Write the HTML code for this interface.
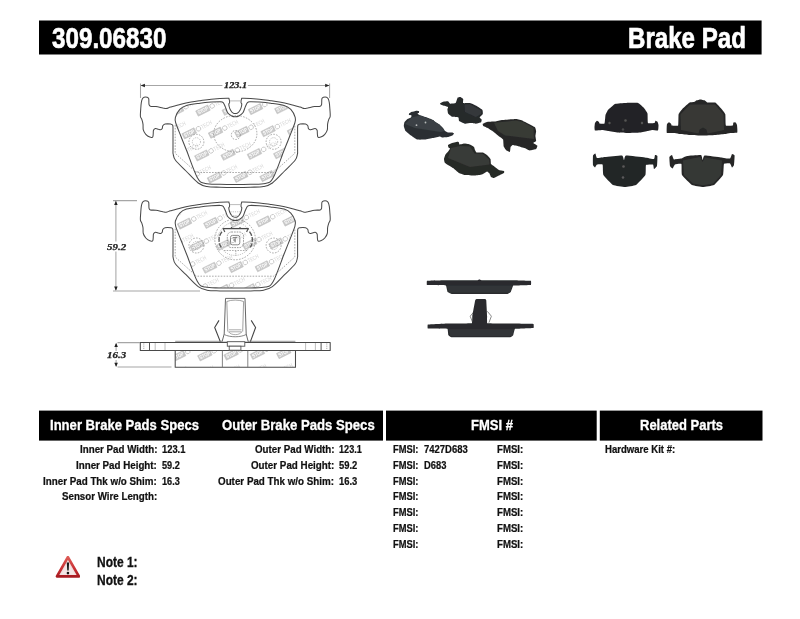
<!DOCTYPE html>
<html><head><meta charset="utf-8"><title>309.06830 Brake Pad</title>
<style>
html,body{margin:0;padding:0;background:#fff;}
body{width:800px;height:619px;position:relative;overflow:hidden;font-family:"Liberation Sans",sans-serif;}
.t{filter:blur(0.3px);position:absolute;white-space:pre;line-height:1;font-weight:bold;transform-origin:0 0;font-family:"Liberation Sans",sans-serif;}
.wmg{font-family:"Liberation Sans",sans-serif;font-weight:bold;fill:none;}
.ol{fill:none;stroke:#4a4a4a;stroke-width:1.05;stroke-linejoin:round;}
.ds{fill:none;stroke:#858585;stroke-width:0.7;stroke-dasharray:1.6 1.3;}
.ds2{fill:none;stroke:#999;stroke-width:0.7;stroke-dasharray:1 1.2;}
.dm{fill:none;stroke:#a6a6a6;stroke-width:1.05;}
</style></head><body>
<svg width="800" height="619" viewBox="0 0 800 619" style="position:absolute;left:0;top:0">
<defs>
<filter id="b1" x="-10%" y="-10%" width="120%" height="120%"><feGaussianBlur stdDeviation="0.55"/></filter>
<filter id="b0" x="-5%" y="-5%" width="110%" height="110%"><feGaussianBlur stdDeviation="0.35"/></filter>
<clipPath id="cf"><path d="M235.00 116.80C233.80 116.80 232.92 116.67 231.70 116.00C230.48 115.33 228.75 114.28 227.70 112.80C226.65 111.32 226.15 108.80 225.40 107.10C224.65 105.40 224.03 103.50 223.20 102.60C222.37 101.70 222.38 101.78 220.40 101.70C218.42 101.62 214.70 101.85 211.30 102.10C207.90 102.35 204.13 102.65 200.00 103.20C195.87 103.75 189.87 104.37 186.50 105.40C183.13 106.43 181.65 107.42 179.80 109.40C177.95 111.38 176.07 115.03 175.40 117.30C174.73 119.57 174.87 119.80 175.80 123.00C176.73 126.20 179.20 131.92 181.00 136.50C182.80 141.08 183.87 143.62 186.60 150.50C189.33 157.38 194.28 172.32 197.40 177.80C200.52 183.28 201.53 182.33 205.30 183.40C209.07 184.47 215.05 184.03 220.00 184.20C224.95 184.37 229.90 184.40 235.00 184.40C240.10 184.40 245.55 184.37 250.60 184.20C255.65 184.03 261.53 184.47 265.30 183.40C269.07 182.33 270.08 183.28 273.20 177.80C276.32 172.32 281.27 157.38 284.00 150.50C286.73 143.62 287.80 141.08 289.60 136.50C291.40 131.92 293.87 126.20 294.80 123.00C295.73 119.80 295.87 119.57 295.20 117.30C294.53 115.03 292.65 111.38 290.80 109.40C288.95 107.42 287.47 106.43 284.10 105.40C280.73 104.37 274.73 103.75 270.60 103.20C266.47 102.65 262.70 102.35 259.30 102.10C255.90 101.85 252.18 101.62 250.20 101.70C248.22 101.78 248.23 101.70 247.40 102.60C246.57 103.50 245.95 105.40 245.20 107.10C244.45 108.80 243.95 111.32 242.90 112.80C241.85 114.28 240.22 115.33 238.90 116.00C237.58 116.67 236.20 116.80 235.00 116.80Z"/></clipPath>
<clipPath id="cf2"><path d="M235.00 116.80C233.80 116.80 232.92 116.67 231.70 116.00C230.48 115.33 228.75 114.28 227.70 112.80C226.65 111.32 226.15 108.80 225.40 107.10C224.65 105.40 224.03 103.50 223.20 102.60C222.37 101.70 222.38 101.78 220.40 101.70C218.42 101.62 214.70 101.85 211.30 102.10C207.90 102.35 204.13 102.65 200.00 103.20C195.87 103.75 189.87 104.37 186.50 105.40C183.13 106.43 181.65 107.42 179.80 109.40C177.95 111.38 176.07 115.03 175.40 117.30C174.73 119.57 174.87 119.80 175.80 123.00C176.73 126.20 179.20 131.92 181.00 136.50C182.80 141.08 183.87 143.62 186.60 150.50C189.33 157.38 194.28 172.32 197.40 177.80C200.52 183.28 201.53 182.33 205.30 183.40C209.07 184.47 215.05 184.03 220.00 184.20C224.95 184.37 229.90 184.40 235.00 184.40C240.10 184.40 245.55 184.37 250.60 184.20C255.65 184.03 261.53 184.47 265.30 183.40C269.07 182.33 270.08 183.28 273.20 177.80C276.32 172.32 281.27 157.38 284.00 150.50C286.73 143.62 287.80 141.08 289.60 136.50C291.40 131.92 293.87 126.20 294.80 123.00C295.73 119.80 295.87 119.57 295.20 117.30C294.53 115.03 292.65 111.38 290.80 109.40C288.95 107.42 287.47 106.43 284.10 105.40C280.73 104.37 274.73 103.75 270.60 103.20C266.47 102.65 262.70 102.35 259.30 102.10C255.90 101.85 252.18 101.62 250.20 101.70C248.22 101.78 248.23 101.70 247.40 102.60C246.57 103.50 245.95 105.40 245.20 107.10C244.45 108.80 243.95 111.32 242.90 112.80C241.85 114.28 240.22 115.33 238.90 116.00C237.58 116.67 236.20 116.80 235.00 116.80Z" transform="translate(0 103.7)"/></clipPath>
<clipPath id="cs"><rect x="175.2" y="350.4" width="120.3" height="16.9"/></clipPath>
<g>
<g id="lg"><rect x="-0.6" y="-4.9" width="13.4" height="5.8" fill="#c9c9c9" stroke="#bdbdbd" stroke-width="0.5"/><text x="0.5" y="-0.3" textLength="11.2" lengthAdjust="spacingAndGlyphs" stroke="none" fill="#fff" font-size="5.4">STOP</text><circle cx="16.4" cy="-2" r="2.3" stroke="#c2c2c2" stroke-width="0.8"/><text x="19.6" y="0" textLength="11.5" lengthAdjust="spacingAndGlyphs" stroke="none" fill="#d6d6d6" font-size="6" font-weight="normal">TECH</text></g>
</g>
<g id="pad">
 <path d="M235.00 113.50C234.37 113.50 233.93 113.45 233.40 113.20C232.87 112.95 232.40 112.77 231.80 112.00C231.20 111.23 230.30 109.88 229.80 108.60C229.30 107.32 228.83 105.30 228.80 104.30C228.77 103.30 229.57 103.48 229.60 102.60C229.63 101.72 229.42 99.72 229.00 99.00C228.58 98.28 230.05 98.27 227.10 98.30C224.15 98.33 215.82 98.80 211.30 99.20C206.78 99.60 203.37 100.22 200.00 100.70C196.63 101.18 194.28 101.50 191.10 102.10C187.92 102.70 184.30 103.47 180.90 104.30C177.50 105.13 173.15 106.40 170.70 107.10C168.25 107.80 167.52 108.35 166.20 108.50C164.88 108.65 164.50 108.32 162.80 108.00C161.10 107.68 158.07 106.90 156.00 106.60C153.93 106.30 151.57 106.58 150.40 106.20C149.23 105.82 149.28 105.55 149.00 104.30C148.72 103.05 149.03 99.88 148.70 98.70C148.37 97.52 147.77 97.45 147.00 97.20C146.23 96.95 144.87 96.95 144.10 97.20C143.33 97.45 142.87 97.80 142.40 98.70C141.93 99.60 141.58 100.82 141.30 102.60C141.02 104.38 140.85 107.13 140.70 109.40C140.55 111.67 140.20 114.50 140.40 116.20C140.60 117.90 141.47 118.28 141.90 119.60C142.33 120.92 142.77 122.40 143.00 124.10C143.23 125.80 142.83 128.10 143.30 129.80C143.77 131.50 144.72 133.08 145.80 134.30C146.88 135.52 148.67 136.63 149.80 137.10C150.93 137.57 152.03 137.57 152.60 137.10C153.17 136.63 153.05 135.43 153.20 134.30C153.35 133.17 153.13 131.25 153.50 130.30C153.87 129.35 154.60 128.78 155.40 128.60C156.20 128.42 157.45 129.00 158.30 129.20C159.15 129.40 159.85 129.90 160.50 129.80C161.15 129.70 161.82 129.27 162.20 128.60C162.58 127.93 162.32 126.55 162.80 125.80C163.28 125.05 163.78 124.38 165.10 124.10C166.42 123.82 169.43 123.92 170.70 124.10C171.97 124.28 172.32 124.22 172.70 125.20C173.08 126.18 172.95 125.87 173.00 130.00C173.05 134.13 172.97 145.98 173.00 150.00C173.03 154.02 172.78 152.38 173.20 154.10C173.62 155.82 173.37 157.48 175.50 160.30C177.63 163.12 182.22 167.22 186.00 171.00C189.78 174.78 194.70 180.42 198.20 183.00C201.70 185.58 203.37 185.80 207.00 186.50C210.63 187.20 215.33 187.05 220.00 187.20C224.67 187.35 229.90 187.40 235.00 187.40C240.10 187.40 245.83 187.35 250.60 187.20C255.37 187.05 259.97 187.20 263.60 186.50C267.23 185.80 268.90 185.58 272.40 183.00C275.90 180.42 280.82 174.78 284.60 171.00C288.38 167.22 292.97 163.12 295.10 160.30C297.23 157.48 296.98 155.82 297.40 154.10C297.82 152.38 297.57 154.02 297.60 150.00C297.63 145.98 297.55 134.13 297.60 130.00C297.65 125.87 297.52 126.18 297.90 125.20C298.28 124.22 298.63 124.28 299.90 124.10C301.17 123.92 304.18 123.82 305.50 124.10C306.82 124.38 307.32 125.05 307.80 125.80C308.28 126.55 308.02 127.93 308.40 128.60C308.78 129.27 309.45 129.70 310.10 129.80C310.75 129.90 311.45 129.40 312.30 129.20C313.15 129.00 314.40 128.42 315.20 128.60C316.00 128.78 316.73 129.35 317.10 130.30C317.47 131.25 317.25 133.17 317.40 134.30C317.55 135.43 317.43 136.63 318.00 137.10C318.57 137.57 319.67 137.57 320.80 137.10C321.93 136.63 323.72 135.52 324.80 134.30C325.88 133.08 326.83 131.50 327.30 129.80C327.77 128.10 327.37 125.80 327.60 124.10C327.83 122.40 328.27 120.92 328.70 119.60C329.13 118.28 330.00 117.90 330.20 116.20C330.40 114.50 330.05 111.67 329.90 109.40C329.75 107.13 329.58 104.38 329.30 102.60C329.02 100.82 328.67 99.60 328.20 98.70C327.73 97.80 327.27 97.45 326.50 97.20C325.73 96.95 324.37 96.95 323.60 97.20C322.83 97.45 322.23 97.52 321.90 98.70C321.57 99.88 321.88 103.05 321.60 104.30C321.32 105.55 321.37 105.82 320.20 106.20C319.03 106.58 316.67 106.30 314.60 106.60C312.53 106.90 309.50 107.68 307.80 108.00C306.10 108.32 305.72 108.65 304.40 108.50C303.08 108.35 302.35 107.80 299.90 107.10C297.45 106.40 293.10 105.13 289.70 104.30C286.30 103.47 282.68 102.70 279.50 102.10C276.32 101.50 273.97 101.18 270.60 100.70C267.23 100.22 263.82 99.60 259.30 99.20C254.78 98.80 246.45 98.33 243.50 98.30C240.55 98.27 242.02 98.28 241.60 99.00C241.18 99.72 240.97 101.72 241.00 102.60C241.03 103.48 241.83 103.30 241.80 104.30C241.77 105.30 241.30 107.32 240.80 108.60C240.30 109.88 239.40 111.23 238.80 112.00C238.20 112.77 237.83 112.95 237.20 113.20C236.57 113.45 235.63 113.50 235.00 113.50Z" class="ol"/>
 <path d="M235.00 116.80C233.80 116.80 232.92 116.67 231.70 116.00C230.48 115.33 228.75 114.28 227.70 112.80C226.65 111.32 226.15 108.80 225.40 107.10C224.65 105.40 224.03 103.50 223.20 102.60C222.37 101.70 222.38 101.78 220.40 101.70C218.42 101.62 214.70 101.85 211.30 102.10C207.90 102.35 204.13 102.65 200.00 103.20C195.87 103.75 189.87 104.37 186.50 105.40C183.13 106.43 181.65 107.42 179.80 109.40C177.95 111.38 176.07 115.03 175.40 117.30C174.73 119.57 174.87 119.80 175.80 123.00C176.73 126.20 179.20 131.92 181.00 136.50C182.80 141.08 183.87 143.62 186.60 150.50C189.33 157.38 194.28 172.32 197.40 177.80C200.52 183.28 201.53 182.33 205.30 183.40C209.07 184.47 215.05 184.03 220.00 184.20C224.95 184.37 229.90 184.40 235.00 184.40C240.10 184.40 245.55 184.37 250.60 184.20C255.65 184.03 261.53 184.47 265.30 183.40C269.07 182.33 270.08 183.28 273.20 177.80C276.32 172.32 281.27 157.38 284.00 150.50C286.73 143.62 287.80 141.08 289.60 136.50C291.40 131.92 293.87 126.20 294.80 123.00C295.73 119.80 295.87 119.57 295.20 117.30C294.53 115.03 292.65 111.38 290.80 109.40C288.95 107.42 287.47 106.43 284.10 105.40C280.73 104.37 274.73 103.75 270.60 103.20C266.47 102.65 262.70 102.35 259.30 102.10C255.90 101.85 252.18 101.62 250.20 101.70C248.22 101.78 248.23 101.70 247.40 102.60C246.57 103.50 245.95 105.40 245.20 107.10C244.45 108.80 243.95 111.32 242.90 112.80C241.85 114.28 240.22 115.33 238.90 116.00C237.58 116.67 236.20 116.80 235.00 116.80Z" class="ol"/>
 <path d="M229.6 100.9H240.4" stroke="#aaa" stroke-width="0.8" fill="none"/>
 <path d="M175.2 125V153.3L196.5 172.5H273.5L294.8 153.3V125" class="ds"/>
 <circle cx="196.4" cy="141.8" r="7.5" class="ds"/><circle cx="196.4" cy="141.8" r="4.1" class="ds2"/> <circle cx="273.6" cy="141.8" r="7.5" class="ds"/><circle cx="273.6" cy="141.8" r="4.1" class="ds2"/>
</g>
</defs>
<rect x="39" y="20.5" width="722.6" height="34" fill="#000"/>
<rect x="39" y="410.6" width="344" height="30" fill="#000"/>
<rect x="386" y="410.6" width="210.7" height="30" fill="#000"/>
<rect x="599.8" y="410.6" width="162.7" height="30" fill="#000"/>
<g filter="url(#b0)">
<g clip-path="url(#cf)" class="wmg"><use href="#lg" transform="translate(159.5 93.7) rotate(-26.6)"/>
<use href="#lg" transform="translate(185.8 93.0) rotate(-26.6)"/>
<use href="#lg" transform="translate(212.1 92.2) rotate(-26.6)"/>
<use href="#lg" transform="translate(238.4 91.5) rotate(-26.6)"/>
<use href="#lg" transform="translate(264.7 90.7) rotate(-26.6)"/>
<use href="#lg" transform="translate(291.0 90.0) rotate(-26.6)"/>
<use href="#lg" transform="translate(145.8 116.6) rotate(-26.6)"/>
<use href="#lg" transform="translate(172.1 115.8) rotate(-26.6)"/>
<use href="#lg" transform="translate(198.4 115.1) rotate(-26.6)"/>
<use href="#lg" transform="translate(224.7 114.3) rotate(-26.6)"/>
<use href="#lg" transform="translate(251.0 113.6) rotate(-26.6)"/>
<use href="#lg" transform="translate(277.3 112.8) rotate(-26.6)"/>
<use href="#lg" transform="translate(303.6 112.1) rotate(-26.6)"/>
<use href="#lg" transform="translate(158.4 138.7) rotate(-26.6)"/>
<use href="#lg" transform="translate(184.7 137.9) rotate(-26.6)"/>
<use href="#lg" transform="translate(211.0 137.2) rotate(-26.6)"/>
<use href="#lg" transform="translate(237.3 136.4) rotate(-26.6)"/>
<use href="#lg" transform="translate(263.6 135.7) rotate(-26.6)"/>
<use href="#lg" transform="translate(289.9 134.9) rotate(-26.6)"/>
<use href="#lg" transform="translate(171.0 160.8) rotate(-26.6)"/>
<use href="#lg" transform="translate(197.3 160.0) rotate(-26.6)"/>
<use href="#lg" transform="translate(223.6 159.3) rotate(-26.6)"/>
<use href="#lg" transform="translate(249.9 158.5) rotate(-26.6)"/>
<use href="#lg" transform="translate(276.2 157.8) rotate(-26.6)"/>
<use href="#lg" transform="translate(302.5 157.0) rotate(-26.6)"/>
<use href="#lg" transform="translate(157.3 183.6) rotate(-26.6)"/>
<use href="#lg" transform="translate(183.6 182.9) rotate(-26.6)"/>
<use href="#lg" transform="translate(209.9 182.1) rotate(-26.6)"/>
<use href="#lg" transform="translate(236.2 181.4) rotate(-26.6)"/>
<use href="#lg" transform="translate(262.5 180.6) rotate(-26.6)"/>
<use href="#lg" transform="translate(288.8 179.9) rotate(-26.6)"/>
<use href="#lg" transform="translate(315.1 179.1) rotate(-26.6)"/>
<use href="#lg" transform="translate(222.5 204.2) rotate(-26.6)"/>
<use href="#lg" transform="translate(248.8 203.5) rotate(-26.6)"/>
<use href="#lg" transform="translate(275.1 202.7) rotate(-26.6)"/>
<use href="#lg" transform="translate(301.4 202.0) rotate(-26.6)"/></g>
<use href="#pad"/>
<ellipse cx="235.3" cy="133.7" rx="21.6" ry="18.3" class="ds"/><circle cx="235.8" cy="135" r="4.5" class="ds"/>
<path d="M140.5 98V83.5M329.6 98V83.5M141 85.4H222.4M247.9 85.4H329" class="dm"/>
<path d="M140.7 85.4l4.2-1.75v3.5zM329.4 85.4l-4.2-1.75v3.5z" fill="#222"/>
<g clip-path="url(#cf2)" class="wmg"><use href="#lg" transform="translate(167.4 206.0) rotate(-26.6)"/>
<use href="#lg" transform="translate(193.7 205.3) rotate(-26.6)"/>
<use href="#lg" transform="translate(220.0 204.5) rotate(-26.6)"/>
<use href="#lg" transform="translate(246.3 203.8) rotate(-26.6)"/>
<use href="#lg" transform="translate(272.6 203.0) rotate(-26.6)"/>
<use href="#lg" transform="translate(298.9 202.3) rotate(-26.6)"/>
<use href="#lg" transform="translate(153.7 228.9) rotate(-26.6)"/>
<use href="#lg" transform="translate(180.0 228.1) rotate(-26.6)"/>
<use href="#lg" transform="translate(206.3 227.4) rotate(-26.6)"/>
<use href="#lg" transform="translate(232.6 226.6) rotate(-26.6)"/>
<use href="#lg" transform="translate(258.9 225.9) rotate(-26.6)"/>
<use href="#lg" transform="translate(285.2 225.1) rotate(-26.6)"/>
<use href="#lg" transform="translate(311.5 224.4) rotate(-26.6)"/>
<use href="#lg" transform="translate(166.3 251.0) rotate(-26.6)"/>
<use href="#lg" transform="translate(192.6 250.2) rotate(-26.6)"/>
<use href="#lg" transform="translate(218.9 249.5) rotate(-26.6)"/>
<use href="#lg" transform="translate(245.2 248.7) rotate(-26.6)"/>
<use href="#lg" transform="translate(271.5 248.0) rotate(-26.6)"/>
<use href="#lg" transform="translate(297.8 247.2) rotate(-26.6)"/>
<use href="#lg" transform="translate(152.6 273.8) rotate(-26.6)"/>
<use href="#lg" transform="translate(178.9 273.1) rotate(-26.6)"/>
<use href="#lg" transform="translate(205.2 272.3) rotate(-26.6)"/>
<use href="#lg" transform="translate(231.5 271.6) rotate(-26.6)"/>
<use href="#lg" transform="translate(257.8 270.8) rotate(-26.6)"/>
<use href="#lg" transform="translate(284.1 270.1) rotate(-26.6)"/>
<use href="#lg" transform="translate(310.4 269.3) rotate(-26.6)"/>
<use href="#lg" transform="translate(165.2 295.9) rotate(-26.6)"/>
<use href="#lg" transform="translate(191.5 295.2) rotate(-26.6)"/>
<use href="#lg" transform="translate(217.8 294.4) rotate(-26.6)"/>
<use href="#lg" transform="translate(244.1 293.7) rotate(-26.6)"/>
<use href="#lg" transform="translate(270.4 292.9) rotate(-26.6)"/>
<use href="#lg" transform="translate(296.7 292.2) rotate(-26.6)"/></g>
<use href="#pad" transform="translate(0 103.7)"/>
<circle cx="235.1" cy="239.5" r="20.3" class="ds"/><circle cx="235" cy="238.9" r="16.5" class="ds2"/>
<g fill="none" stroke="#555" stroke-width="0.9">
<path d="M222.6 228.6H248.8" stroke-width="1.3" stroke="#4a4a4a"/>
<path d="M223.2 228.6l1.6 3.4M248.2 228.6l-1.6 3.4M231.5 228.5v-1.5M240 228.5v-1.5" stroke-width="1.2"/>
<path d="M222 231.8C218.2 236 218.2 243 221.2 247.3M249.5 231.8C253.3 236 253.3 243 250.3 247.3" stroke-width="1.3" stroke="#5a5a5a" stroke-dasharray="4.5 1.6"/>
<rect x="227.3" y="232" width="16.2" height="15.6" rx="4.2" stroke="#808080" stroke-width="0.8" stroke-dasharray="1.6 1"/>
<rect x="230.5" y="235.4" width="9.3" height="9.4" rx="2" stroke-width="0.8" stroke="#707070"/>
<path d="M232.8 237.6h4.6M235.2 237.6v4.8M233 240h2.2" stroke-width="0.8" stroke="#666"/>
<path d="M224 250.5H247.6" stroke-width="0.7" stroke="#888" stroke-dasharray="1.5 1.2"/>
<path d="M235.8 251v5" stroke-width="0.7" stroke="#888" stroke-dasharray="1.2 1"/>
<path d="M230.5 211.8H240.2M231 215.6H239.6" stroke-width="0.6" stroke="#999" stroke-dasharray="1.2 1"/>
</g>
<path d="M113 200.6H137M113 290.9H200M115.9 201.5V241.6M115.9 251.4V290" class="dm"/>
<path d="M115.9 200.7l-1.75 4.2h3.5zM115.9 290.8l-1.75-4.2h3.5z" fill="#222"/>
<g clip-path="url(#cs)" class="wmg"><use href="#lg" transform="translate(147.7 361.4) rotate(-26.6)"/>
<use href="#lg" transform="translate(174.0 360.6) rotate(-26.6)"/>
<use href="#lg" transform="translate(200.3 359.9) rotate(-26.6)"/>
<use href="#lg" transform="translate(226.6 359.1) rotate(-26.6)"/>
<use href="#lg" transform="translate(252.9 358.4) rotate(-26.6)"/>
<use href="#lg" transform="translate(279.2 357.6) rotate(-26.6)"/>
<use href="#lg" transform="translate(305.5 356.9) rotate(-26.6)"/>
<use href="#lg" transform="translate(160.3 383.5) rotate(-26.6)"/>
<use href="#lg" transform="translate(186.6 382.7) rotate(-26.6)"/>
<use href="#lg" transform="translate(212.9 382.0) rotate(-26.6)"/>
<use href="#lg" transform="translate(239.2 381.2) rotate(-26.6)"/>
<use href="#lg" transform="translate(265.5 380.5) rotate(-26.6)"/>
<use href="#lg" transform="translate(291.8 379.7) rotate(-26.6)"/></g>
<path d="M175.2 341.3H295.4" stroke="#888" stroke-width="0.9" fill="none"/>
<rect x="140.3" y="342.5" width="189.9" height="7.9" class="ol"/>
<rect x="175.2" y="350.4" width="120.3" height="16.9" class="ol"/>
<path d="M222.4 350.4V367.2M247.8 350.4V367.2" stroke="#666" stroke-width="0.8" fill="none"/>
<path d="M155.20 343V350M315.40 343V350M165.00 343V350M305.60 343V350" stroke="#999" stroke-width="0.65" fill="none"/>
<path d="M149.5 343V350M321.1 343V350" stroke="#555" stroke-width="1" fill="none"/>
<path d="M143.8 343.4V350M326.8 343.4V350" stroke="#888" stroke-width="0.7" stroke-dasharray="1.2 1" fill="none"/>
<g fill="none" stroke="#555" stroke-width="0.9">
<path d="M222.1 341.6L224.2 334L225.5 298.4H245L246.2 334L248.2 341.6" fill="#fff"/>
<path d="M224.2 334.5C230 337.5 240.5 337.5 246.2 334.5" stroke="#777"/>
<path d="M227.8 331.5L226.8 301.5C231 299.6 239.5 299.6 243.6 301.5L242.7 331.5" stroke="#777" stroke-width="0.7"/>
<path d="M228.6 331.8C231 335.6 239.6 335.6 241.8 331.8M228.6 331.8H241.8M229 329.8H241.4" stroke="#888" stroke-width="0.7"/>
<path d="M219 320.4L214.7 327.5L220.3 341.6M251.2 320.4L255.6 327.5L250.4 341.6" stroke="#444" stroke-width="1.1"/>
<rect x="227.3" y="341.7" width="17.5" height="4.5" fill="#fff"/>
<rect x="229.2" y="346.2" width="11.7" height="4" fill="#fff"/>
</g>
<path d="M117.5 342.6H140M117.5 367H171.5M116.1 344V351M116.1 360V366" class="dm"/>
<path d="M116.1 342.7l-1.75 4.2h3.5zM116.1 367l-1.75-4.2h3.5z" fill="#222"/>
</g>
<g filter="url(#b1)">
<path d="M409.00 113.50C409.12 113.33 410.55 112.36 411.00 112.20C411.45 112.04 416.02 110.86 416.50 110.80C416.98 110.74 418.85 111.08 419.00 111.20C419.15 111.32 419.09 112.66 419.00 112.80C418.91 112.94 417.47 113.37 417.50 113.50C417.53 113.63 418.93 114.76 419.50 115.00C420.07 115.24 426.16 117.19 427.00 117.50C427.84 117.81 433.02 119.93 433.50 120.20C433.98 120.47 434.64 121.74 435.00 122.00C435.36 122.26 439.02 124.14 439.50 124.50C439.98 124.86 442.67 127.61 443.00 128.00C443.33 128.39 444.70 130.73 445.00 131.00C445.30 131.27 447.55 132.41 448.00 132.50C448.45 132.59 452.14 132.44 452.50 132.50C452.86 132.56 454.00 133.32 454.00 133.50C454.00 133.68 452.86 135.29 452.50 135.50C452.14 135.71 448.63 136.88 448.00 137.00C447.37 137.12 442.48 137.53 442.00 137.50C441.52 137.47 440.54 136.47 440.00 136.50C439.46 136.53 433.90 137.82 433.00 138.00C432.10 138.18 425.96 139.41 425.00 139.50C424.04 139.59 417.84 139.74 417.00 139.50C416.16 139.26 411.69 136.01 411.00 135.50C410.31 134.99 405.93 131.57 405.50 131.00C405.07 130.43 403.86 126.54 403.80 126.00C403.74 125.46 404.28 122.42 404.50 122.00C404.72 121.58 407.11 119.27 407.50 119.00C407.89 118.73 410.76 117.71 411.00 117.50C411.24 117.29 411.62 115.65 411.50 115.50C411.38 115.35 409.15 115.12 409.00 115.00C408.85 114.88 408.88 113.67 409.00 113.50Z" fill="#2b2f33" />
<path d="M411.5 117.5L420 115.5L433.5 120.5L439.5 124.8L444.5 131L441 132L415 128L405 124Z" fill="#3a4145"/>
<circle cx="416.5" cy="125.2" r="0.9" fill="#b8b8b8"/><circle cx="425.5" cy="122.5" r="0.9" fill="#b8b8b8"/>
<path d="M440.20 103.10C440.36 102.94 442.73 101.81 443.20 101.70C443.67 101.59 447.69 101.18 448.10 101.30C448.51 101.42 449.65 103.59 450.10 103.70C450.55 103.81 455.14 103.47 455.60 103.10C456.06 102.73 457.41 97.97 457.70 97.60C457.99 97.23 460.07 96.82 460.40 96.90C460.73 96.98 463.03 98.53 463.20 98.90C463.37 99.27 462.79 102.85 463.20 103.10C463.61 103.35 469.32 102.94 470.10 103.10C470.88 103.26 475.46 105.39 476.20 105.80C476.94 106.21 482.00 109.40 482.40 109.90C482.80 110.40 482.96 113.64 482.80 114.10C482.64 114.56 479.77 117.17 479.70 117.50C479.63 117.83 481.62 119.31 481.70 119.60C481.78 119.89 481.43 122.05 481.10 122.30C480.77 122.55 476.82 123.66 476.20 123.70C475.58 123.74 471.36 123.00 470.70 123.00C470.04 123.00 465.90 123.83 465.20 123.70C464.50 123.57 459.51 121.27 459.10 120.90C458.69 120.53 458.81 117.75 458.40 117.50C457.99 117.25 452.82 117.05 452.20 116.80C451.58 116.55 448.39 113.86 448.10 113.40C447.81 112.94 447.40 109.57 447.40 109.20C447.40 108.83 448.27 107.40 448.10 107.20C447.93 107.00 445.06 105.97 444.60 105.80C444.14 105.63 440.76 104.56 440.50 104.40C440.24 104.24 440.04 103.26 440.20 103.10Z" fill="#26292c" />
<path d="M464.5 104.5L470 104.2L481 110.5L481 114L476 117L465 112Z" fill="#34383b"/>
<path d="M482.80 123.70C483.05 123.47 486.52 122.03 487.20 121.90C487.88 121.77 493.27 121.70 494.10 121.60C494.93 121.50 499.68 120.35 501.00 120.20C502.32 120.05 514.78 119.06 516.10 119.10C517.42 119.14 521.88 120.42 523.00 120.90C524.12 121.38 533.91 126.48 534.70 127.10C535.49 127.72 536.06 130.66 536.10 131.20C536.14 131.74 535.40 135.52 535.40 136.10C535.40 136.68 536.23 140.49 536.10 140.90C535.97 141.31 533.22 142.61 533.30 142.90C533.38 143.19 537.23 145.33 537.40 145.70C537.57 146.07 536.55 148.81 536.10 149.10C535.65 149.39 530.52 150.54 529.90 150.50C529.28 150.46 526.36 148.65 525.70 148.40C525.04 148.15 519.68 146.60 518.90 146.40C518.12 146.20 513.20 144.96 512.70 145.00C512.20 145.04 510.77 146.69 510.60 147.10C510.43 147.51 510.15 151.70 509.90 151.90C509.65 152.10 506.87 150.83 506.50 150.50C506.13 150.17 503.90 147.06 503.70 146.40C503.50 145.74 503.35 140.08 503.10 139.50C502.85 138.92 500.22 137.20 499.60 136.70C498.98 136.20 493.44 131.73 492.70 131.20C491.96 130.67 487.78 128.13 487.20 127.80C486.62 127.47 483.36 125.95 483.10 125.70C482.84 125.45 482.55 123.93 482.80 123.70Z" fill="#262727" />
<path d="M494 122.8L516 120.5L523 122L533.5 128L534 139L505 135.5L498 131Z" fill="#383a36"/>
<path d="M448.00 145.00C448.15 144.76 450.43 143.69 451.00 143.50C451.57 143.31 457.02 141.86 457.50 141.80C457.98 141.74 458.88 142.34 459.00 142.50C459.12 142.66 459.14 144.44 459.50 144.50C459.86 144.56 464.37 143.50 465.00 143.50C465.63 143.50 469.46 144.29 470.00 144.50C470.54 144.71 473.70 146.67 474.00 147.00C474.30 147.33 474.85 149.67 475.00 150.00C475.15 150.33 476.02 152.35 476.50 152.50C476.98 152.65 482.37 152.35 483.00 152.50C483.63 152.65 486.55 154.61 487.00 155.00C487.45 155.39 490.26 158.46 490.50 159.00C490.74 159.54 490.85 163.61 491.00 164.00C491.15 164.39 492.52 165.14 493.00 165.50C493.48 165.86 498.34 169.67 499.00 170.00C499.66 170.33 503.70 170.82 504.00 171.00C504.30 171.18 504.24 172.76 504.00 173.00C503.76 173.24 500.60 174.70 500.00 175.00C499.40 175.30 494.54 177.88 494.00 178.00C493.46 178.12 491.27 177.27 491.00 177.00C490.73 176.73 489.74 173.83 489.50 173.50C489.26 173.17 487.45 171.44 487.00 171.50C486.55 171.56 482.72 174.26 482.00 174.50C481.28 174.74 476.02 175.47 475.00 175.50C473.98 175.53 465.96 175.15 465.00 175.00C464.04 174.85 459.72 173.42 459.00 173.00C458.28 172.58 453.84 168.60 453.00 168.00C452.16 167.40 445.54 163.54 445.00 163.00C444.46 162.46 443.97 159.51 444.00 159.00C444.03 158.49 445.23 154.98 445.50 154.50C445.77 154.02 448.23 151.36 448.50 151.00C448.77 150.64 450.00 148.71 450.00 148.50C450.00 148.29 448.62 147.71 448.50 147.50C448.38 147.29 447.85 145.24 448.00 145.00Z" fill="#282928" />
<path d="M451 148L460 146L470 146.5L474.5 153.5L483 154L489 159.5L489.5 164.5L470 167L448 158Z" fill="#393a37"/>
<path d="M595.00 123.00C595.15 122.63 596.76 120.86 597.00 120.80C597.24 120.74 598.85 121.84 599.00 122.00C599.15 122.16 599.17 123.41 599.50 123.50C599.83 123.59 604.14 124.01 604.50 123.50C604.86 122.99 605.29 115.81 605.50 115.00C605.71 114.19 607.43 110.66 608.00 110.00C608.57 109.34 613.92 104.42 615.00 104.00C616.08 103.58 624.62 103.06 626.00 103.00C627.38 102.94 636.92 102.70 638.00 103.00C639.08 103.30 643.43 107.37 644.00 108.00C644.57 108.63 647.26 112.60 647.50 113.50C647.74 114.40 647.58 122.43 648.00 123.00C648.42 123.57 654.05 123.13 654.50 123.00C654.95 122.87 655.32 120.87 655.50 120.80C655.68 120.73 657.32 121.55 657.50 121.80C657.68 122.05 658.47 124.48 658.50 125.00C658.53 125.52 658.39 130.20 658.00 130.50C657.61 130.80 652.60 129.97 652.00 130.00C651.40 130.03 648.72 130.85 648.00 131.00C647.28 131.15 641.20 132.38 640.00 132.50C638.80 132.62 629.32 133.00 628.00 133.00C626.68 133.00 619.20 132.62 618.00 132.50C616.80 132.38 608.90 131.15 608.00 131.00C607.10 130.85 603.78 130.03 603.00 130.00C602.22 129.97 595.51 130.68 595.00 130.50C594.49 130.32 594.50 127.45 594.50 127.00C594.50 126.55 594.85 123.37 595.00 123.00Z" fill="#242426" />
<circle cx="609.5" cy="123" r="1.2" fill="#555"/><circle cx="625.5" cy="120.5" r="1.2" fill="#555"/><circle cx="642" cy="123" r="1.2" fill="#555"/><circle cx="623" cy="129.5" r="1.2" fill="#4a4a4a"/>
<path d="M666.90 124.40C667.03 123.76 668.74 122.33 669.00 122.30C669.26 122.27 671.04 123.71 671.20 123.90C671.36 124.09 671.29 125.40 671.70 125.50C672.11 125.60 677.69 126.17 678.10 125.50C678.51 124.83 678.35 115.29 678.60 114.30C678.85 113.31 681.63 109.70 682.30 109.00C682.97 108.30 689.00 103.01 689.70 102.60C690.40 102.19 693.58 102.24 694.00 102.10C694.42 101.96 696.32 100.46 696.70 100.30C697.08 100.14 699.93 99.40 700.40 99.40C700.87 99.40 704.19 100.12 704.60 100.30C705.01 100.48 706.66 102.26 707.30 102.40C707.94 102.54 714.34 102.20 715.20 102.60C716.06 103.00 720.99 108.30 721.60 109.00C722.21 109.70 725.04 113.31 725.30 114.30C725.56 115.29 725.45 124.83 725.90 125.50C726.35 126.17 732.36 125.66 732.80 125.50C733.24 125.34 733.14 122.99 733.30 122.80C733.46 122.61 735.18 122.17 735.40 122.30C735.62 122.43 736.89 124.29 737.00 124.90C737.11 125.51 737.71 131.92 737.30 132.40C736.89 132.88 730.85 132.80 730.10 132.90C729.35 133.00 725.69 133.87 724.80 134.00C723.91 134.13 716.54 134.90 715.20 135.00C713.86 135.10 704.03 135.60 702.50 135.60C700.97 135.60 691.04 135.10 689.70 135.00C688.36 134.90 681.09 134.13 680.20 134.00C679.31 133.87 675.70 132.97 674.90 132.90C674.10 132.83 667.38 133.41 666.90 132.90C666.42 132.39 666.77 125.04 666.90 124.40Z" fill="#262727" />
<path d="M680.5 114.5L690 104.5L715 104.5L723.5 114.5L724 130L707.5 133.5L706.5 129.5L703 127.5L699.5 129.5L698.5 133.5L681 130Z" fill="#383936"/>
<path d="M593.00 155.40C593.14 154.70 595.16 153.24 595.40 153.40C595.64 153.56 596.42 157.78 597.00 158.00C597.58 158.22 603.50 157.16 605.00 157.00C606.50 156.84 620.86 155.22 622.00 155.40C623.14 155.58 623.76 160.00 624.00 160.00C624.24 160.00 624.74 155.56 626.00 155.40C627.26 155.24 643.32 157.18 645.00 157.40C646.68 157.62 653.40 159.14 654.00 159.00C654.60 158.86 654.80 155.18 655.00 155.00C655.20 154.82 657.28 155.34 657.40 156.00C657.52 156.66 657.20 165.22 657.00 166.00C656.80 166.78 654.24 169.08 654.00 169.00C653.76 168.92 653.48 164.84 653.00 164.60C652.52 164.36 646.46 164.38 646.00 165.00C645.54 165.62 646.00 173.80 645.40 175.00C644.80 176.20 637.22 184.28 636.00 185.00C634.78 185.72 626.38 187.00 625.00 187.00C623.62 187.00 614.30 185.72 613.00 185.00C611.70 184.28 604.02 176.22 603.40 175.00C602.78 173.78 602.98 165.22 602.60 164.60C602.22 163.98 597.46 164.43 597.00 164.60C596.54 164.77 595.24 167.38 595.00 167.40C594.76 167.42 593.12 165.72 593.00 165.00C592.88 164.28 592.86 156.10 593.00 155.40Z" fill="#232527" />
<circle cx="623.5" cy="166.5" r="1.3" fill="#5a5a5a"/><circle cx="623" cy="177.5" r="1.3" fill="#5a5a5a"/>
<path d="M669.40 157.00C669.52 156.34 671.72 154.86 672.00 155.00C672.28 155.14 673.46 159.18 674.00 159.40C674.54 159.62 680.22 158.80 681.00 158.60C681.78 158.40 685.80 156.22 687.00 156.00C688.20 155.78 700.06 154.76 701.00 155.00C701.94 155.24 702.38 159.98 702.60 160.00C702.82 160.02 703.50 155.56 704.60 155.40C705.70 155.24 719.48 157.21 721.00 157.40C722.52 157.59 729.34 158.80 730.00 158.60C730.66 158.40 731.72 154.19 732.00 154.00C732.28 153.81 734.48 154.74 734.60 155.40C734.72 156.06 734.16 164.28 734.00 165.00C733.84 165.72 732.24 167.50 732.00 167.40C731.76 167.30 730.48 163.60 730.00 163.40C729.52 163.20 724.42 163.30 724.00 164.00C723.58 164.70 723.60 173.74 723.00 175.00C722.40 176.26 715.20 184.28 714.00 185.00C712.80 185.72 704.32 187.00 703.00 187.00C701.68 187.00 693.26 185.72 692.00 185.00C690.74 184.28 682.64 176.26 682.00 175.00C681.36 173.74 681.82 164.62 681.40 164.00C680.98 163.38 675.53 164.32 675.00 164.60C674.47 164.88 672.90 168.52 672.60 168.60C672.30 168.68 670.19 166.70 670.00 166.00C669.81 165.30 669.28 157.66 669.40 157.00Z" fill="#272828" />
<path d="M683 160.5L700 157L702.6 162L705 157.5L722 160.5L721 175L713 183.5L703 185.3L693 183.5L684 175Z" fill="#363836"/>
<path d="M474.3 311.3L470.2 316.2L472.7 322.7M487.3 311.3L491.4 316.2L488.9 322.7" stroke="#8a8a8a" stroke-width="1" fill="none"/>
<path d="M427.00 280.70C427.31 280.62 445.06 280.21 445.90 280.20C446.74 280.19 477.05 280.22 477.60 280.20C478.16 280.18 479.13 279.20 479.20 279.20C479.27 279.20 481.02 280.18 481.60 280.20C482.18 280.22 513.28 280.19 514.10 280.20C514.92 280.21 530.62 280.72 530.90 280.80C531.18 280.88 531.19 284.82 530.90 284.90C530.61 284.98 513.63 285.38 513.30 285.50C512.97 285.62 511.00 291.66 510.90 291.80C510.80 291.94 508.59 293.86 507.60 293.90C506.61 293.94 452.60 293.94 451.60 293.90C450.60 293.86 447.60 291.94 447.50 291.80C447.40 291.66 446.24 285.61 445.90 285.50C445.56 285.39 427.31 285.18 427.00 285.10C426.69 285.02 426.69 280.78 427.00 280.70Z" fill="#2a2c2e" />
<path d="M447 285.8H512L510 292.5H449Z" fill="#333638"/>
<path d="M427.80 324.60C428.13 324.52 446.76 323.62 447.50 323.60C448.24 323.58 471.49 323.33 471.90 323.20C472.31 323.07 472.25 316.38 472.30 316.00C472.36 315.62 475.13 300.48 475.20 300.20C475.27 299.92 476.23 299.12 476.40 299.10C476.57 299.08 485.13 299.08 485.30 299.10C485.47 299.12 486.27 300.22 486.30 300.50C486.33 300.78 487.08 315.62 487.10 316.00C487.12 316.38 486.88 323.07 487.30 323.20C487.72 323.33 511.73 323.59 512.50 323.60C513.27 323.61 533.15 323.93 533.50 324.00C533.85 324.07 533.81 327.92 533.50 328.00C533.19 328.08 515.24 328.78 514.90 328.90C514.56 329.01 513.38 334.76 513.30 334.90C513.22 335.04 511.13 337.26 510.10 337.30C509.07 337.34 452.63 337.34 451.60 337.30C450.57 337.26 448.37 335.04 448.30 334.90C448.23 334.76 447.84 329.00 447.50 328.90C447.16 328.79 428.13 328.67 427.80 328.60C427.47 328.53 427.47 324.68 427.80 324.60Z" fill="#2a2c2e" />
<path d="M448.5 329.3H514L512 336H450.5Z" fill="#333638"/>
</g>
<g filter="url(#b0)">
<linearGradient id="rg" x1="0" y1="0" x2="0" y2="1"><stop offset="0" stop-color="#dd5b55"/><stop offset="0.6" stop-color="#c93034"/><stop offset="1" stop-color="#a81d22"/></linearGradient>
<path d="M67.9 557.2L57 576.4H78.9Z" fill="#f0dcdc" stroke="url(#rg)" stroke-width="2.7" stroke-linejoin="round"/>
<path d="M67.9 562L61 574.4H74.9Z" fill="#f4e6e6"/>
<path d="M66.8 562.6h2.3l-0.45 7.9h-1.4z" fill="#151515"/><circle cx="67.95" cy="573.1" r="1.3" fill="#151515"/>
</g>
</svg>
<span class="t" style="left:52.06px;top:22.94px;font-size:29.6px;color:#fff;transform:scaleX(0.8181);-webkit-text-stroke:0.65px #fff;">309.06830</span>
<span class="t" style="left:627.66px;top:24.29px;font-size:28.6px;color:#fff;transform:scaleX(0.8426);-webkit-text-stroke:0.65px #fff;">Brake Pad</span>
<span class="t" style="left:49.63px;top:417.30px;font-size:15px;color:#fff;transform:scaleX(0.8717);-webkit-text-stroke:0.33px #fff;">Inner Brake Pads Specs</span>
<span class="t" style="left:222.13px;top:417.30px;font-size:15px;color:#fff;transform:scaleX(0.8765);-webkit-text-stroke:0.33px #fff;">Outer Brake Pads Specs</span>
<span class="t" style="left:471.13px;top:417.10px;font-size:15px;color:#fff;transform:scaleX(0.8675);-webkit-text-stroke:0.33px #fff;">FMSI #</span>
<span class="t" style="left:639.63px;top:417.10px;font-size:15px;color:#fff;transform:scaleX(0.8655);-webkit-text-stroke:0.33px #fff;">Related Parts</span>
<span class="t" style="left:79.50px;top:444.29px;font-size:11px;color:#111;transform:scaleX(0.8868);-webkit-text-stroke:0.24px #111;">Inner Pad Width:</span>
<span class="t" style="left:76.10px;top:460.09px;font-size:11px;color:#111;transform:scaleX(0.8874);-webkit-text-stroke:0.24px #111;">Inner Pad Height:</span>
<span class="t" style="left:43.10px;top:475.69px;font-size:11px;color:#111;transform:scaleX(0.8909);-webkit-text-stroke:0.24px #111;">Inner Pad Thk w/o Shim:</span>
<span class="t" style="left:61.70px;top:491.39px;font-size:11px;color:#111;transform:scaleX(0.8859);-webkit-text-stroke:0.24px #111;">Sensor Wire Length:</span>
<span class="t" style="left:162.10px;top:444.29px;font-size:11px;color:#111;transform:scaleX(0.8503);-webkit-text-stroke:0.24px #111;">123.1</span>
<span class="t" style="left:162.10px;top:460.09px;font-size:11px;color:#111;transform:scaleX(0.8317);-webkit-text-stroke:0.24px #111;">59.2</span>
<span class="t" style="left:162.10px;top:475.69px;font-size:11px;color:#111;transform:scaleX(0.8317);-webkit-text-stroke:0.24px #111;">16.3</span>
<span class="t" style="left:254.60px;top:444.29px;font-size:11px;color:#111;transform:scaleX(0.8866);-webkit-text-stroke:0.24px #111;">Outer Pad Width:</span>
<span class="t" style="left:250.85px;top:460.09px;font-size:11px;color:#111;transform:scaleX(0.8909);-webkit-text-stroke:0.24px #111;">Outer Pad Height:</span>
<span class="t" style="left:218.10px;top:475.69px;font-size:11px;color:#111;transform:scaleX(0.8915);-webkit-text-stroke:0.24px #111;">Outer Pad Thk w/o Shim:</span>
<span class="t" style="left:339.10px;top:444.29px;font-size:11px;color:#111;transform:scaleX(0.8285);-webkit-text-stroke:0.24px #111;">123.1</span>
<span class="t" style="left:339.10px;top:460.09px;font-size:11px;color:#111;transform:scaleX(0.8551);-webkit-text-stroke:0.24px #111;">59.2</span>
<span class="t" style="left:339.10px;top:475.69px;font-size:11px;color:#111;transform:scaleX(0.8551);-webkit-text-stroke:0.24px #111;">16.3</span>
<span class="t" style="left:392.50px;top:444.09px;font-size:11px;color:#111;transform:scaleX(0.8486);-webkit-text-stroke:0.24px #111;">FMSI:</span>
<span class="t" style="left:496.70px;top:444.09px;font-size:11px;color:#111;transform:scaleX(0.8753);-webkit-text-stroke:0.24px #111;">FMSI:</span>
<span class="t" style="left:392.50px;top:459.89px;font-size:11px;color:#111;transform:scaleX(0.8486);-webkit-text-stroke:0.24px #111;">FMSI:</span>
<span class="t" style="left:496.70px;top:459.89px;font-size:11px;color:#111;transform:scaleX(0.8753);-webkit-text-stroke:0.24px #111;">FMSI:</span>
<span class="t" style="left:392.50px;top:475.69px;font-size:11px;color:#111;transform:scaleX(0.8486);-webkit-text-stroke:0.24px #111;">FMSI:</span>
<span class="t" style="left:496.70px;top:475.69px;font-size:11px;color:#111;transform:scaleX(0.8753);-webkit-text-stroke:0.24px #111;">FMSI:</span>
<span class="t" style="left:392.50px;top:491.49px;font-size:11px;color:#111;transform:scaleX(0.8486);-webkit-text-stroke:0.24px #111;">FMSI:</span>
<span class="t" style="left:496.70px;top:491.49px;font-size:11px;color:#111;transform:scaleX(0.8753);-webkit-text-stroke:0.24px #111;">FMSI:</span>
<span class="t" style="left:392.50px;top:507.29px;font-size:11px;color:#111;transform:scaleX(0.8486);-webkit-text-stroke:0.24px #111;">FMSI:</span>
<span class="t" style="left:496.70px;top:507.29px;font-size:11px;color:#111;transform:scaleX(0.8753);-webkit-text-stroke:0.24px #111;">FMSI:</span>
<span class="t" style="left:392.50px;top:523.09px;font-size:11px;color:#111;transform:scaleX(0.8486);-webkit-text-stroke:0.24px #111;">FMSI:</span>
<span class="t" style="left:496.70px;top:523.09px;font-size:11px;color:#111;transform:scaleX(0.8753);-webkit-text-stroke:0.24px #111;">FMSI:</span>
<span class="t" style="left:392.50px;top:538.89px;font-size:11px;color:#111;transform:scaleX(0.8486);-webkit-text-stroke:0.24px #111;">FMSI:</span>
<span class="t" style="left:496.70px;top:538.89px;font-size:11px;color:#111;transform:scaleX(0.8753);-webkit-text-stroke:0.24px #111;">FMSI:</span>
<span class="t" style="left:424.10px;top:444.09px;font-size:11px;color:#111;transform:scaleX(0.8629);-webkit-text-stroke:0.24px #111;">7427D683</span>
<span class="t" style="left:424.10px;top:459.89px;font-size:11px;color:#111;transform:scaleX(0.8520);-webkit-text-stroke:0.24px #111;">D683</span>
<span class="t" style="left:604.70px;top:444.29px;font-size:11px;color:#111;transform:scaleX(0.8701);-webkit-text-stroke:0.24px #111;">Hardware Kit #:</span>
<span class="t" style="left:96.82px;top:554.85px;font-size:14px;color:#111;transform:scaleX(0.8547);-webkit-text-stroke:0.31px #111;">Note 1:</span>
<span class="t" style="left:96.82px;top:573.45px;font-size:14px;color:#111;transform:scaleX(0.8547);-webkit-text-stroke:0.31px #111;">Note 2:</span>
<span class="t" style="left:223.70px;top:81.30px;font-size:8.5px;color:#222;font-style:italic;font-family:'Liberation Serif',serif;transform:scaleX(1.2078);-webkit-text-stroke:0.25px #222;">123.1</span>
<span class="t" style="left:107.10px;top:242.90px;font-size:8.5px;color:#222;font-style:italic;font-family:'Liberation Serif',serif;transform:scaleX(1.2840);-webkit-text-stroke:0.25px #222;">59.2</span>
<span class="t" style="left:107.10px;top:351.40px;font-size:8.5px;color:#222;font-style:italic;font-family:'Liberation Serif',serif;transform:scaleX(1.2840);-webkit-text-stroke:0.25px #222;">16.3</span>
</body></html>
